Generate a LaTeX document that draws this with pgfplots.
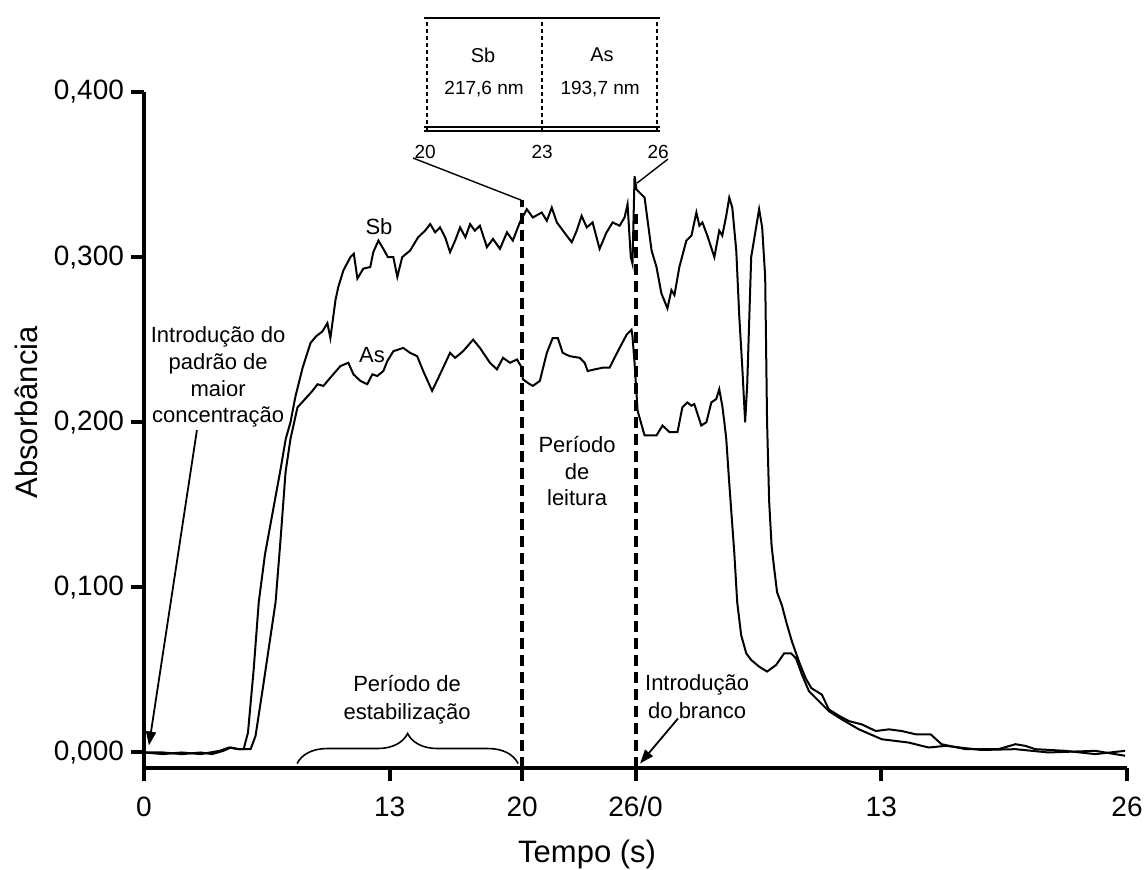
\documentclass[border=0pt]{standalone}
\usepackage{fontspec}
\setmainfont{Liberation Sans}
\usepackage{pgfplots}
\pgfplotsset{compat=1.18}
\usetikzlibrary{decorations.pathreplacing,arrows.meta}

\pgfplotstableread{
x y
0 0.000
1 0.000
2 -0.001
3 0.000
3.6 -0.001
4.2 0.001
4.6 0.003
5.0 0.002
5.27 0.002
5.5 0.012
5.8 0.05
6.07 0.091
6.4 0.12
6.8 0.145
7.2 0.17
7.5 0.19
7.75 0.2
8.0 0.215
8.39 0.233
8.81 0.248
9.1 0.252
9.44 0.255
9.7 0.26
9.86 0.251
10.13 0.274
10.28 0.282
10.55 0.292
10.92 0.300
11.1 0.302
11.29 0.287
11.6 0.293
11.97 0.294
12.13 0.303
12.4 0.31
12.66 0.305
12.9 0.300
13.19 0.300
13.4 0.288
13.66 0.300
14.08 0.304
14.5 0.312
14.87 0.316
15.14 0.320
15.4 0.315
15.66 0.318
15.93 0.312
16.19 0.303
16.46 0.310
16.72 0.318
17.0 0.312
17.25 0.320
17.5 0.316
17.77 0.319
18.14 0.306
18.46 0.311
18.83 0.305
19.2 0.315
19.51 0.310
19.88 0.321
20.25 0.329
20.57 0.324
21.04 0.327
21.31 0.322
21.57 0.330
21.84 0.321
22.36 0.313
22.63 0.309
22.89 0.316
23.15 0.325
23.42 0.318
23.73 0.321
24.1 0.305
24.47 0.315
24.79 0.321
25.16 0.319
25.42 0.324
25.58 0.332
25.75 0.300
25.84 0.296
25.95 0.349
26.05 0.341
26.48 0.336
26.85 0.304
27.11 0.294
27.37 0.278
27.69 0.269
27.9 0.280
28.06 0.277
28.32 0.294
28.69 0.310
28.96 0.313
29.22 0.327
29.38 0.319
29.54 0.321
29.8 0.313
30.17 0.300
30.43 0.316
30.59 0.313
30.8 0.325
30.96 0.336
31.12 0.330
31.33 0.304
31.49 0.264
31.65 0.233
31.8 0.200
31.91 0.223
32.12 0.300
32.38 0.318
32.54 0.329
32.7 0.318
32.86 0.288
32.96 0.200
33.07 0.152
33.2 0.125
33.33 0.112
33.49 0.097
33.75 0.089
33.86 0.084
34.0 0.078
34.28 0.067
34.65 0.055
35.0 0.045
35.3 0.039
35.86 0.035
36.23 0.026
36.8 0.022
37.29 0.019
37.97 0.017
38.71 0.013
39.4 0.014
40.08 0.013
40.82 0.011
41.61 0.011
42.19 0.005
43.46 0.002
45.2 0.002
46.1 0.005
46.62 0.004
47.15 0.002
48.73 0.001
50.32 -0.001
51.9 0.001
}\sbdata

\pgfplotstableread{
x y
0 0.000
1 -0.001
2 0.000
3 -0.001
4 0.001
4.5 0.003
5.0 0.002
5.64 0.002
5.9 0.01
6.3 0.04
6.96 0.091
7.23 0.13
7.49 0.17
7.75 0.19
8.12 0.209
8.44 0.213
8.91 0.219
9.18 0.223
9.49 0.222
9.86 0.227
10.39 0.234
10.81 0.236
11.08 0.229
11.45 0.225
11.81 0.223
12.08 0.229
12.34 0.228
12.66 0.231
12.87 0.237
13.19 0.243
13.71 0.245
14.08 0.242
14.45 0.240
14.77 0.231
15.24 0.219
15.66 0.229
16.19 0.242
16.46 0.239
16.88 0.243
17.41 0.250
17.77 0.245
18.30 0.236
18.67 0.232
18.99 0.239
19.36 0.236
19.73 0.238
19.99 0.233
20.04 0.226
20.41 0.223
20.57 0.222
20.94 0.225
21.31 0.242
21.62 0.251
21.89 0.251
22.15 0.242
22.52 0.240
23.05 0.239
23.31 0.236
23.47 0.231
23.84 0.232
24.26 0.233
24.63 0.233
24.89 0.239
25.16 0.245
25.53 0.253
25.79 0.256
25.84 0.252
25.95 0.236
26.11 0.207
26.48 0.192
27.11 0.192
27.43 0.198
27.80 0.194
28.22 0.194
28.48 0.209
28.74 0.212
28.96 0.210
29.11 0.211
29.48 0.198
29.75 0.200
30.01 0.212
30.27 0.214
30.43 0.220
30.59 0.210
30.70 0.200
30.80 0.190
30.96 0.163
31.22 0.122
31.38 0.091
31.59 0.071
31.86 0.060
32.12 0.056
32.54 0.052
32.96 0.049
33.44 0.053
33.86 0.060
34.23 0.060
34.49 0.057
34.81 0.047
35.18 0.037
35.71 0.031
36.23 0.025
36.92 0.020
37.82 0.014
39.03 0.008
40.45 0.006
41.51 0.003
42.41 0.004
44.30 0.0015
46.10 0.002
47.84 0.000
50.32 0.001
51.90 -0.002
}\asdata

\begin{document}
\begin{tikzpicture}
\path[use as bounding box] (-72pt,-51pt) rectangle (501pt,384pt);
\begin{axis}[
  scale only axis, width=491.5pt, height=338pt,
  xmin=0, xmax=52, ymin=-0.0094, ymax=0.4,
  axis x line=bottom, axis y line=left,
  axis line style={line width=2pt, -},
  xtick={0,13,20,26,39,52}, xticklabels={0,13,20,26/0,13,26},
  ytick={0,0.1,0.2,0.3,0.4},
  tick align=outside, major tick length=6.5pt,
  tick style={line width=2pt, black},
  /pgf/number format/assume math mode=true,
  yticklabel style={/pgf/number format/.cd, use comma, fixed, fixed zerofill, precision=3},
  ticklabel style={font=\fontsize{14}{16}\selectfont},
  xticklabel style={anchor=north, text height=10pt, text depth=0pt, yshift=-4pt},
  clip=false,
  xlabel={Tempo (s)}, ylabel={Absorbância},
  label style={font=\fontsize{15.5}{18}\selectfont},
  xlabel style={at={(axis cs:23.44,-0.0667)}, anchor=base},
  ylabel style={at={(axis cs:-6.24,0.206)}, anchor=center},
]
\addplot[black, line width=1pt] table {\sbdata};
\addplot[black, line width=1pt] table {\asdata};

% reading period dashed lines
\draw[line width=2pt, dash pattern=on 5.5pt off 3pt] (axis cs:20,-0.0094) -- (axis cs:20,0.3345);
\draw[line width=2pt, dash pattern=on 5.5pt off 3pt] (axis cs:26,-0.0094) -- (axis cs:26,0.326);

% inset
\draw[line width=0.9pt] (axis cs:14.8,0.4448) -- (axis cs:27.3,0.4448);
\draw[line width=0.9pt] (axis cs:14.8,0.3788) -- (axis cs:27.3,0.3788);
\draw[line width=0.9pt] (axis cs:14.8,0.3764) -- (axis cs:27.3,0.3764);
\draw[line width=1.2pt, dash pattern=on 2pt off 1.5pt] (axis cs:14.97,0.3764) -- (axis cs:14.97,0.4448);
\draw[line width=1.2pt, dash pattern=on 2pt off 1.5pt] (axis cs:21.06,0.3764) -- (axis cs:21.06,0.4448);
\draw[line width=1.2pt, dash pattern=on 2pt off 1.5pt] (axis cs:27.14,0.3764) -- (axis cs:27.14,0.4448);
\node[font=\fontsize{10}{11}\selectfont] at (axis cs:17.94,0.4224) {Sb};
\node[font=\fontsize{9.5}{11}\selectfont] at (axis cs:17.99,0.4018) {217,6 nm};
\node[font=\fontsize{10}{11}\selectfont] at (axis cs:24.23,0.4224) {As};
\node[font=\fontsize{9.5}{11}\selectfont] at (axis cs:24.13,0.4018) {193,7 nm};
\node[font=\fontsize{9.5}{11}\selectfont] at (axis cs:14.87,0.3636) {20};
\node[font=\fontsize{9.5}{11}\selectfont] at (axis cs:21.06,0.3636) {23};
\node[font=\fontsize{9.5}{11}\selectfont] at (axis cs:27.20,0.3636) {26};
\draw[line width=0.7pt] (axis cs:14.23,0.3600) -- (axis cs:19.95,0.3345);
\draw[line width=0.7pt] (axis cs:27.72,0.3594) -- (axis cs:26.08,0.3448);

% labels
\node[font=\fontsize{11}{13.3}\selectfont] at (axis cs:12.43,0.3182) {Sb};
\node[font=\fontsize{11}{13.3}\selectfont] at (axis cs:12.06,0.2406) {As};
\node[font=\fontsize{11}{13.3}\selectfont, align=center] at (axis cs:3.92,0.2273) {Introdução do\\padrão de\\maior\\concentração};
\draw[line width=0.9pt, -{Triangle[length=7pt,width=5pt]}] (axis cs:2.80,0.1952) -- (axis cs:0.26,0.0042);
\node[font=\fontsize{11}{13.3}\selectfont, align=center] at (axis cs:22.91,0.1703) {Período\\de\\leitura};
\node[font=\fontsize{11}{13.8}\selectfont, align=center] at (axis cs:13.92,0.0321) {Período de\\estabilização};
\draw[line width=0.8pt, decorate, decoration={brace, amplitude=15pt}] (axis cs:8.10,-0.0067) -- (axis cs:19.79,-0.0067);
\node[font=\fontsize{11}{13.8}\selectfont, align=center] at (axis cs:29.26,0.0339) {Introdução\\do branco};
\draw[line width=0.9pt, -{Triangle[length=7pt,width=5pt]}] (axis cs:28.25,0.0206) -- (axis cs:26.24,-0.0067);
\end{axis}
\end{tikzpicture}
\end{document}
